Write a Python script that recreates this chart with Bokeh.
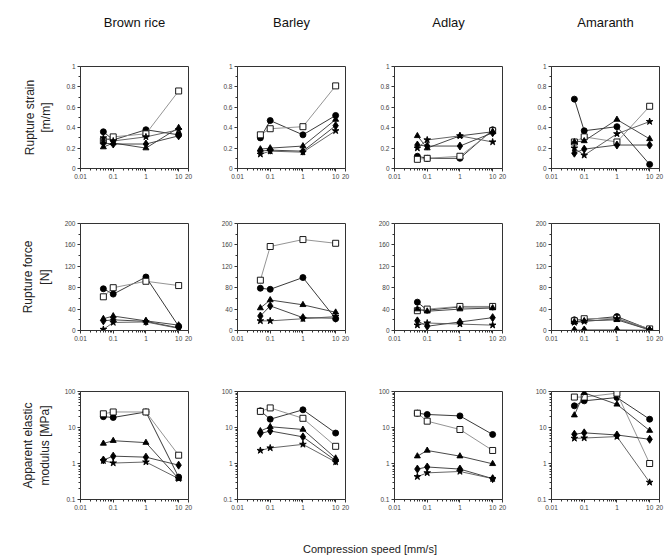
from bokeh.plotting import figure
from bokeh.layouts import gridplot, column
from bokeh.models import FixedTicker, CustomJSTickFormatter, Range1d
from bokeh.embed import file_html
from bokeh.resources import INLINE
from bokeh.core.properties import value

# ---------------- data ----------------
speeds = [0.05, 0.1, 1, 10]
grains = ["Brown rice", "Barley", "Adlay", "Amaranth"]
row_labels = ["Rupture strain\n[m/m]", "Rupture force\n[N]", "Apparent elastic\nmodulus [MPa]"]
x_label = "Compression speed [mm/s]"
x_ticks = [0.01, 0.1, 1, 10, 20]
strain_ticks = [0, 0.2, 0.4, 0.6, 0.8, 1]
force_ticks = [0, 40, 80, 120, 160, 200]
modulus_ticks = [0.1, 1, 10, 100]

# rupture strain [m/m], one list per grain (Brown rice, Barley, Adlay, Amaranth)
strain_circle = [[0.36, 0.28, 0.38, 0.33], [0.30, 0.47, 0.33, 0.52], [0.12, 0.10, 0.10, 0.38], [0.68, 0.37, 0.41, 0.04]]
strain_square = [[0.27, 0.31, 0.34, 0.76], [0.33, 0.39, 0.41, 0.81], [0.09, 0.10, 0.12, 0.37], [0.26, 0.31, 0.26, 0.61]]
strain_triangle = [[0.21, 0.25, 0.20, 0.40], [0.19, 0.20, 0.22, 0.48], [0.32, 0.20, 0.32, 0.36], [0.26, 0.27, 0.48, 0.29]]
strain_diamond = [[0.25, 0.24, 0.24, 0.32], [0.17, 0.18, 0.17, 0.42], [0.23, 0.22, 0.22, 0.35], [0.15, 0.19, 0.23, 0.23]]
strain_star = [[0.30, 0.27, 0.31, 0.38], [0.14, 0.17, 0.16, 0.37], [0.20, 0.28, 0.32, 0.26], [0.20, 0.13, 0.34, 0.46]]

# rupture force [N]
force_circle = [[78, 68, 100, 8], [79, 77, 99, 22], [53, 38, 44, 44], [20, 20, 26, 2]]
force_square = [[63, 80, 92, 84], [94, 157, 170, 163], [37, 40, 45, 45], [18, 22, 23, 3]]
force_triangle = [[22, 27, 18, 10], [42, 57, 48, 34], [40, 36, 40, 42], [16, 18, 20, 1]]
force_diamond = [[18, 20, 17, 5], [27, 46, 24, 23], [18, 8, 16, 24], [0.5, 1, 1, 0.5]]
force_star = [[2, 15, 16, 4], [18, 18, 22, 26], [10, 14, 12, 10], [15, 17, 22, 1]]

# apparent elastic modulus [MPa]
mod_circle = [[20, 19, 27, 0.42], [29, 17, 31, 7], [25, 23, 21, 6.4], [40, 55, 68, 17]]
mod_square = [[24, 27, 27, 1.7], [28, 35, 18, 3], [25, 15, 8.8, 2.3], [70, 70, 90, 1.0]]
mod_triangle = [[3.6, 4.3, 3.8, 0.38], [8, 10.5, 8.8, 1.4], [1.6, 2.3, 1.6, 0.98], [22, 92, 44, 8.2]]
mod_diamond = [[1.25, 1.6, 1.5, 0.9], [6.8, 8, 5.5, 1.2], [0.7, 0.8, 0.7, 0.38], [6.5, 7.1, 6.2, 4.7]]
mod_star = [[1.2, 1.03, 1.1, 0.38], [2.3, 2.7, 3.4, 1.1], [0.43, 0.55, 0.6, 0.38], [5, 5.1, 5.6, 0.3]]

rows = [
    [strain_circle, strain_square, strain_triangle, strain_diamond, strain_star],
    [force_circle, force_square, force_triangle, force_diamond, force_star],
    [mod_circle, mod_square, mod_triangle, mod_diamond, mod_star],
]

# ---------------- style ----------------
FONT = "Liberation Sans"
markers = [
    dict(marker="circle", size=6, fill_color="black", line_color="black"),
    dict(marker="square", size=6, fill_color="white", line_color="black"),
    dict(marker="triangle", size=6, fill_color="black", line_color="black"),
    dict(marker="diamond", size=8, fill_color="black", line_color="black"),
    dict(marker="star", size=7, fill_color="black", line_color="black"),
]
line_colors = ["#222222", "#888888", "#333333", "#333333", "#555555"]

L = [80, 37, 37, 37]
R = [12, 12, 12, 8]
FW = 108
T = [16, 30, 36]
B = [25, 25, 25]
FH = [102, 107, 108]

fmt = CustomJSTickFormatter(code="""
if (Math.abs(tick) < 1e-12) return '0';
return String(parseFloat(tick.toPrecision(3)));
""")

x_minor = [k * 10 ** e for e in (-2, -1, 0) for k in range(2, 10)]
y_minor_lin = [[0.1, 0.3, 0.5, 0.7, 0.9], [20, 60, 100, 140, 180]]
y_minor_log = [k * 10 ** e for e in (-1, 0, 1) for k in range(2, 10)]

grid = []
for r in range(3):
    row_figs = []
    for c in range(4):
        if r == 2:
            p = figure(width=L[c] + FW + R[c], height=T[r] + FH[r] + B[r],
                       x_axis_type="log", y_axis_type="log",
                       x_range=Range1d(0.01, 20), y_range=Range1d(0.1, 100),
                       toolbar_location=None, output_backend="svg",
                       min_border_left=L[c], min_border_right=R[c],
                       min_border_top=T[r], min_border_bottom=B[r])
            p.yaxis.ticker = FixedTicker(ticks=modulus_ticks, minor_ticks=y_minor_log)
        else:
            yr = Range1d(0, 1) if r == 0 else Range1d(0, 200)
            p = figure(width=L[c] + FW + R[c], height=T[r] + FH[r] + B[r],
                       x_axis_type="log",
                       x_range=Range1d(0.01, 20), y_range=yr,
                       toolbar_location=None, output_backend="svg",
                       min_border_left=L[c], min_border_right=R[c],
                       min_border_top=T[r], min_border_bottom=B[r])
            p.yaxis.ticker = FixedTicker(ticks=strain_ticks if r == 0 else force_ticks,
                                         minor_ticks=y_minor_lin[r])
        p.xaxis.ticker = FixedTicker(ticks=x_ticks, minor_ticks=x_minor)
        p.xaxis.formatter = fmt
        p.yaxis.formatter = fmt
        p.grid.visible = False
        p.outline_line_color = "#333333"
        for ax in (p.xaxis, p.yaxis):
            ax.axis_line_color = "#333333"
            ax.major_tick_line_color = "#333333"
            ax.minor_tick_line_color = "#333333"
            ax.major_tick_out = 3
            ax.major_tick_in = 0
            ax.minor_tick_out = 2
            ax.minor_tick_in = 0
            ax.major_label_text_font = FONT
            ax.major_label_text_font_size = "6.5px"
            ax.major_label_text_color = "#444444"
            ax.major_label_standoff = 2
        if c == 0:
            p.yaxis.axis_label = row_labels[r]
            p.yaxis.axis_label_text_font = FONT
            p.yaxis.axis_label_text_font_size = "12px"
            p.yaxis.axis_label_text_font_style = "normal"
            p.yaxis.axis_label_text_color = "#222222"
            p.yaxis.axis_label_standoff = 10
        for s, st in enumerate(markers):
            ys = rows[r][s][c]
            p.line(speeds, ys, line_color=line_colors[s], line_width=0.9)
            p.scatter(speeds, ys, line_width=0.9, **st)
        row_figs.append(p)
    grid.append(row_figs)

gp = gridplot(grid, toolbar_location=None)

W = sum(L) + 4 * FW + sum(R)

header = figure(width=W, height=50, x_range=Range1d(0, W), y_range=Range1d(0, 50),
                toolbar_location=None, output_backend="svg", min_border=0,
                x_axis_location=None, y_axis_location=None)
header.grid.visible = False
header.outline_line_color = None
centers = []
acc = 0
for c in range(4):
    centers.append(acc + L[c] + FW / 2)
    acc += L[c] + FW + R[c]
header.text(x=centers, y=[28] * 4, text=grains, text_align="center", text_baseline="middle",
            text_font=value(FONT), text_font_size="13px", text_color="#111111")

footer = figure(width=W, height=34, x_range=Range1d(0, W), y_range=Range1d(0, 34),
                toolbar_location=None, output_backend="svg", min_border=0,
                x_axis_location=None, y_axis_location=None)
footer.grid.visible = False
footer.outline_line_color = None
footer.text(x=[(centers[1] + centers[2]) / 2], y=[10], text=[x_label], text_align="center",
            text_baseline="middle", text_font=value(FONT), text_font_size="11px", text_color="#222222")

layout = column(header, gp, footer)
open("out.html", "w").write(file_html(layout, INLINE))
